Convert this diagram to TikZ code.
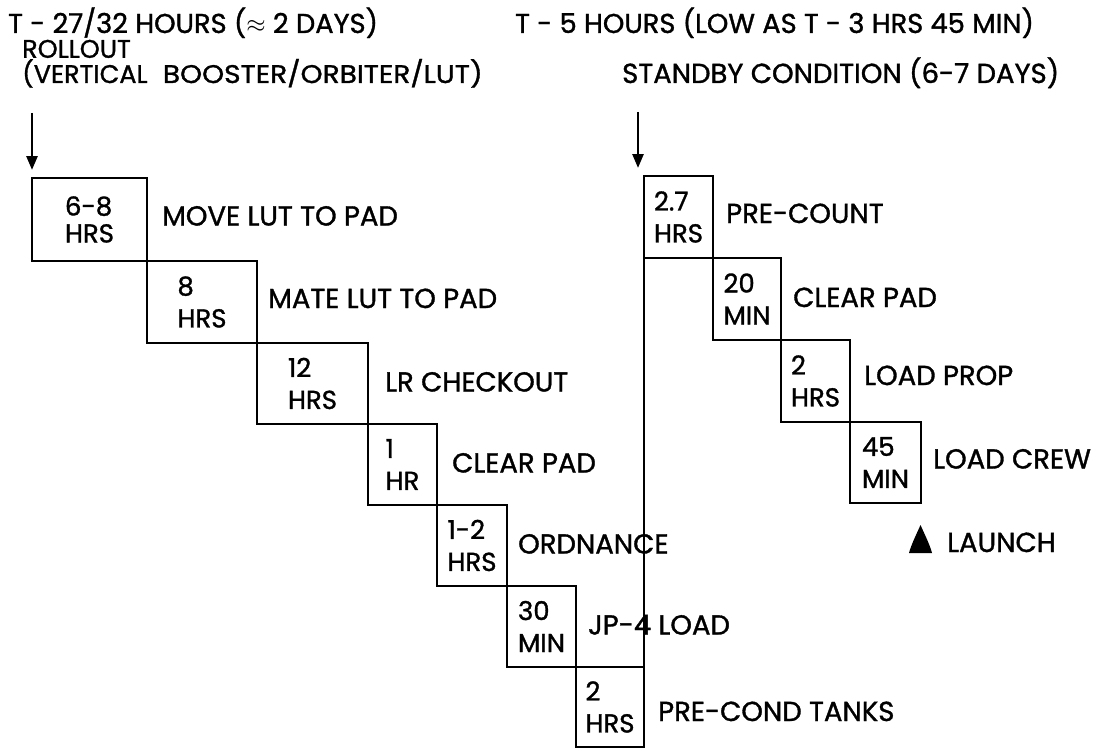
\documentclass[tikz,border=0pt]{standalone}
\usepackage{fontspec}
\setmainfont{Poppins}[FakeBold=1.2]
\usetikzlibrary{arrows.meta}
\tikzset{
  box/.style={draw, line width=2.6pt, outer sep=0pt, anchor=north west, align=left, inner sep=0pt,
    font=\fontsize{26}{32}\selectfont},
  lbl/.style={anchor=base west, inner sep=0pt, font=\fontsize{27.5}{30}\selectfont},
  ttl/.style={anchor=base west, inner sep=0pt, font=\fontsize{27.3}{30}\selectfont},
  arr/.style={line width=2.6pt, -{Triangle[length=14pt,width=11pt]}},
  conn/.style={line width=2.6pt}
}
\begin{document}
\begin{tikzpicture}[x=1pt,y=-1pt]
\useasboundingbox (0,0) rectangle (1094,749);
% titles
\node[ttl] (tl) at (8,33) {T - 27/32 HOURS ($\approx$ 2 DAYS)};
\node[ttl] (tr) at (515,33) {T - 5 HOURS (LOW AS T - 3 HRS 45 MIN)};
\node[lbl, align=left, font=\fontsize{25.5}{22}\selectfont] (ro) at (22,83) {ROLLOUT\\(VERTICAL\hspace{0.6em}\scalebox{1.1}[1]{BOOSTER/ORBITER/LUT)}};
\node[lbl] (sb) at (622,83) {STANDBY CONDITION (6-7 DAYS)};
% left boxes
\node[box, minimum width=115pt, minimum height=83pt, font=\fontsize{26}{27}\selectfont] (b1) at (32,178) {6-8\\HRS};
\node[box, minimum width=110pt, minimum height=82pt] (b2) at (147,261) {8\\HRS};
\node[box, minimum width=111pt, minimum height=81pt] (b3) at (257,343) {12\\HRS};
\node[box, minimum width=69pt, minimum height=81pt] (b4) at (368,424) {1\\HR};
\node[box, minimum width=70pt, minimum height=81pt] (b5) at (437,505) {1-2\\HRS};
\node[box, minimum width=69pt, minimum height=81pt] (b6) at (507,586) {30\\MIN};
\node[box, minimum width=68pt, minimum height=80pt] (b7) at (576,667) {2\\HRS};
% right boxes
\node[box, minimum width=69pt, minimum height=82pt] (r1) at (644,176) {2.7\\HRS};
\node[box, minimum width=68pt, minimum height=82pt] (r2) at (713,258) {20\\MIN};
\node[box, minimum width=69pt, minimum height=82pt] (r3) at (781,340) {2\\HRS};
\node[box, minimum width=71pt, minimum height=81pt] (r4) at (850,422) {45\\MIN};
% labels
\node[lbl] (l1) at ([xshift=15pt,yshift=-6pt]b1.east) {MOVE LUT TO PAD};
\node[lbl] (l2) at ([xshift=11pt,yshift=-6pt]b2.east) {MATE LUT TO PAD};
\node[lbl] (l3) at ([xshift=17pt,yshift=-8pt]b3.east) {LR CHECKOUT};
\node[lbl] (l4) at ([xshift=15pt,yshift=-8pt]b4.east) {CLEAR PAD};
\node[lbl] (l5) at ([xshift=11pt,yshift=-8pt]b5.east) {ORDNANCE};
\node[lbl] (l6) at ([xshift=12pt,yshift=-8pt]b6.east) {JP-4 LOAD};
\node[lbl] (l7) at ([xshift=14pt,yshift=-14pt]b7.east) {PRE-COND TANKS};
\node[lbl] (m1) at ([xshift=13pt,yshift=-6pt]r1.east) {PRE-COUNT};
\node[lbl] (m2) at ([xshift=12pt,yshift=-8pt]r2.east) {CLEAR PAD};
\node[lbl] (m3) at ([xshift=14pt,yshift=-4pt]r3.east) {LOAD PROP};
\node[lbl] (m4) at ([xshift=12pt,yshift=-6pt]r4.east) {LOAD CREW};
% launch
\fill (920.5,525) .. controls (924,533) and (930,545) .. (932,553) -- (909,553) .. controls (911,545) and (917,533) .. (920.5,525) -- cycle;
\node[lbl] (la) at (947,552) {LAUNCH};
% arrows
\coordinate (a1s) at (32,113);
\coordinate (a2s) at (638,112);
\draw[arr] (a1s) -- ([yshift=8pt]b1.north west);
\draw[arr] (a2s) -- ([xshift=-6pt,yshift=8pt]r1.north west);
% long vertical connector
\draw[conn] (r1.south west) -- (r1.south west |- b7.north);
\end{tikzpicture}
\end{document}
